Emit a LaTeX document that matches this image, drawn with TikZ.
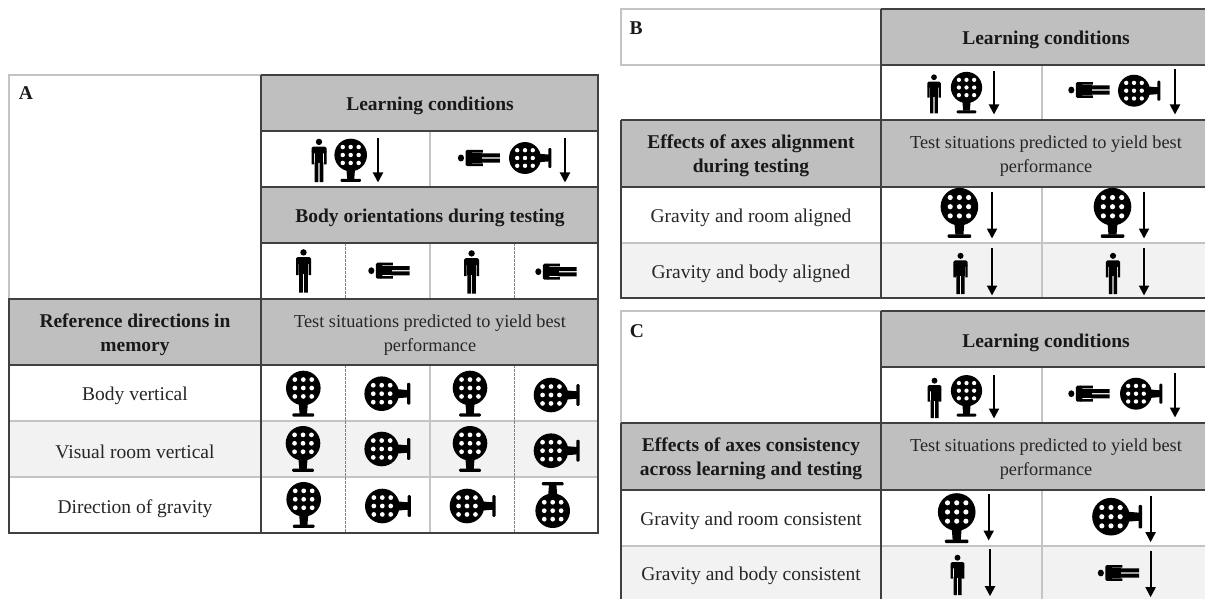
\documentclass[tikz,border=0pt]{standalone}
\usepackage{fontspec}
\setmainfont{Liberation Serif}
\usetikzlibrary{arrows.meta}
\definecolor{hdr}{HTML}{BFBFBF}
\definecolor{alt}{HTML}{F2F2F2}
\definecolor{dark}{HTML}{404040}
\definecolor{soft}{HTML}{C4C4C4}
\tikzset{
  heavy/.style={draw=dark,line width=1.5pt},
  light/.style={draw=soft,line width=1.2pt},
  dash line/.style={draw=gray,line width=.8pt,dash pattern=on 2.5pt off 1.5pt},
  band/.style={fill=hdr},
  altband/.style={fill=alt},
  txt/.style={font=\fontsize{19.5}{24}\selectfont,text=black!85,align=center,inner sep=0pt,yshift=-2pt},
  ttxt/.style={txt,font=\fontsize{18.3}{24}\selectfont},
  btxt/.style={txt,font=\fontsize{19.5}{24}\selectfont\bfseries,text=black!90},
  arw/.style={draw=black,line width=2pt,-{Triangle[width=10pt,length=10pt]},shorten >=-.5pt},
  person/.pic={
    \fill[black] (0,-18.6) circle[radius=3.2];
    \fill[black,rounded corners=1.5pt] (-7.5,-13.8) rectangle (7.5,-7);
    \fill[black] (-7.5,-9) rectangle (-5,4) (5,-9) rectangle (7.5,4);
    \fill[black] (-4.3,-9) rectangle (4.3,3);
    \fill[black] (-4.3,2) rectangle (-.6,21.6) (.6,2) rectangle (4.3,21.6);
  },
  globe/.pic={
    \fill[black] (0,0) circle[radius=16.8];
    \fill[black] (-4.5,14) -- (4.5,14) -- (3.6,25) -- (-3.6,25) -- cycle;
    \fill[black,rounded corners=1pt] (-10.5,24.6) rectangle (10.5,27.8);
    \foreach \i in {-8.2,0,8.2} \foreach \j in {-8.2,0,8.2}
      \fill[white] (\i,\j) circle[radius=2.3];
  }
}
\begin{document}
\begin{tikzpicture}[x=1pt,y=-1pt]
\useasboundingbox (0,0) rectangle (1205,599);
\fill[white] (0,0) rectangle (1205,599);
% ---------- fills
\fill[band] (261,75) rectangle (598,131);
\fill[band] (261,187) rectangle (598,243);
\fill[band] (9,299) rectangle (598,365);
\fill[altband] (9,421) rectangle (598,477);
\fill[band] (881,9) rectangle (1205,65);
\fill[band] (621,120) rectangle (1205,187);
\fill[altband] (621,243) rectangle (1205,298);
\fill[band] (881,311) rectangle (1205,367);
\fill[band] (621,423) rectangle (1205,490);
\fill[altband] (621,546) rectangle (1205,599);
% ---------- panel A rules
\draw[light] (9,299) -- (9,75) -- (261,75);
\draw[light] (430,131) -- (430,187) (430,243) -- (430,299) (430,365) -- (430,533);
\draw[light] (9,421) -- (598,421) (9,477) -- (598,477);
\draw[dash line] (345.5,243) -- (345.5,299) (514,243) -- (514,299) (345.5,365) -- (345.5,533) (514,365) -- (514,533);
\draw[heavy] (261,75) -- (598,75) -- (598,533) -- (9,533) -- (9,299) -- (598,299);
\draw[heavy] (261,75) -- (261,533);
\draw[heavy] (261,131) -- (598,131) (261,187) -- (598,187) (261,243) -- (598,243) (9,365) -- (598,365);
% ---------- panel B rules
\draw[light] (881,9) -- (621,9) -- (621,65) -- (881,65);
\draw[light] (1042,65) -- (1042,120) (1042,187) -- (1042,298) (621,243) -- (1205,243);
\draw[heavy] (881,9) -- (1205,9) (881,65) -- (1205,65) (621,120) -- (1205,120) (621,187) -- (1205,187);
\draw[heavy] (881,9) -- (881,298) (621,120) -- (621,298) -- (1205,298);
% ---------- panel C rules
\draw[light] (881,311) -- (621,311) -- (621,423);
\draw[light] (1042,367) -- (1042,423) (1042,490) -- (1042,599) (621,546) -- (1205,546);
\draw[heavy] (881,311) -- (1205,311) (881,367) -- (1205,367) (621,423) -- (1205,423) (621,490) -- (1205,490);
\draw[heavy] (881,311) -- (881,599) (621,423) -- (621,599);
% ---------- panel A text
\node[btxt] (aLabel) at (26,91.5) {A};
\node[btxt] (aLearn) at (430,104) {Learning conditions};
\node[btxt] (aBody) at (430,216) {Body orientations during testing};
\node[btxt] (aRef) at (135,333) {Reference directions in\\memory};
\node[ttxt] (aTest) at (430,333) {Test situations predicted to yield best\\performance};
\node[txt] (aR1) at (135,394) {Body vertical};
\node[txt] (aR2) at (135,450) {Visual room vertical};
\node[txt] (aR3) at (135,507) {Direction of gravity};
% ---------- panel B text
\node[btxt] (bLabel) at (636,26) {B};
\node[btxt] (bLearn) at (1046,38) {Learning conditions};
\node[btxt] (bEff) at (751,154) {Effects of axes alignment\\during testing};
\node[ttxt] (bTest) at (1046,154) {Test situations predicted to yield best\\performance};
\node[txt] (bR1) at (751,216) {Gravity and room aligned};
\node[txt] (bR2) at (751,272) {Gravity and body aligned};
% ---------- panel C text
\node[btxt] (cLabel) at (637,329) {C};
\node[btxt] (cLearn) at (1046,340.5) {Learning conditions};
\node[btxt] (cEff) at (751,457) {Effects of axes consistency\\across learning and testing};
\node[ttxt] (cTest) at (1046,457) {Test situations predicted to yield best\\performance};
\node[txt] (cR1) at (751,519) {Gravity and room consistent};
\node[txt] (cR2) at (751,574) {Gravity and body consistent};
% ---------- upright persons: x / y / scale
\foreach \x/\y/\s in {
  319/160.5/1, 303.5/271/1, 471.6/272/1,
  934/94/.9, 960.5/273.5/.95, 1113/273.5/.95,
  934.5/398/.93, 957.5/575/.93}
  \pic[scale=\s] at (\x,\y) {person};
% ---------- lying persons: x / y / scale
\foreach \x/\y/\s in {
  479/158/.97, 389/270.7/.95, 556/271.7/.95,
  1089/90/.95, 1089/393.7/.95, 1118.5/573/.95}
  \pic[rotate=90,scale=\s,xscale=1.12] at (\x,\y) {person};
% ---------- globes: x / y / rotate / scale
\foreach \x/\y/\r/\s in {
  350.7/155/0/.97, 525/158/90/.95,
  303.3/388/0/1.03, 381.7/393.7/90/1.03, 470/388/0/1.03, 551/395/90/1.03,
  303/443.3/0/1.03, 381.7/449/90/1.03, 470/443.3/0/1.03, 551/450.7/90/1.03,
  303.7/499.3/0/1.03, 382.3/506/90/1.03, 467/506/90/1.03, 552.7/510.7/180/1.03,
  966.5/87.5/0/.93, 1134/90.7/90/.95, 959.4/206.7/0/1.12, 1112.5/206.7/0/1.12,
  966.5/390.7/0/.93, 1136/393.7/90/.95, 956.7/512/0/1.12, 1111/516.7/90/1.12}
  \pic[rotate=\r,scale=\s] at (\x,\y) {globe};
% ---------- arrows: x / top / bottom
\foreach \x/\a/\b in {
  378/138/182, 565/138/182,
  994/71/114, 1175/69/114, 992/192/238, 1144/192/238, 992/248/295, 1144/248/295,
  994/375/418, 1175/373/417, 988.7/494/540, 1150.6/495.7/541.7, 990/549/595.7, 1150.6/550.7/596.7}
  \draw[arw] (\x,\a) -- (\x,\b);
\end{tikzpicture}
\end{document}
